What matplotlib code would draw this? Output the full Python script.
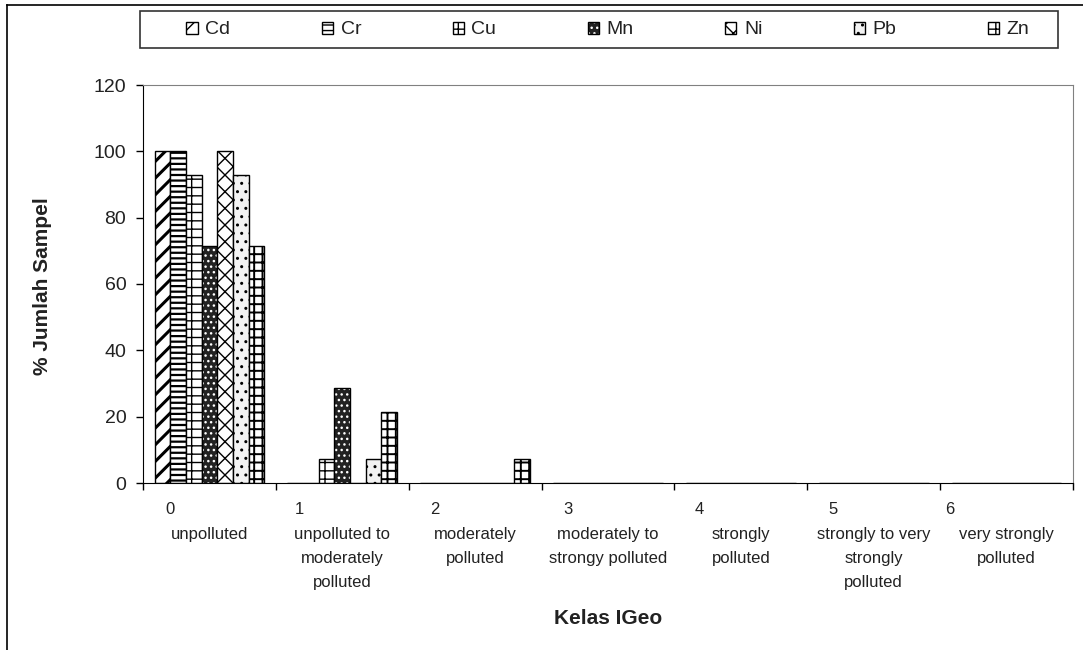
import matplotlib
matplotlib.use("Agg")
import matplotlib.pyplot as plt
from matplotlib.patches import Rectangle, Patch
from matplotlib.lines import Line2D
from matplotlib.legend_handler import HandlerTuple
import numpy as np

plt.rcParams['font.family'] = ['Liberation Sans', 'DejaVu Sans']

# data: % of samples per Igeo class
elements = ['Cd', 'Cr', 'Cu', 'Mn', 'Ni', 'Pb', 'Zn']
class_nums = ['0', '1', '2', '3', '4', '5', '6']
class_names = ['unpolluted', 'unpolluted to\nmoderately\npolluted', 'moderately\npolluted',
               'moderately to\nstrongy polluted', 'strongly\npolluted',
               'strongly to very\nstrongly\npolluted', 'very strongly\npolluted']
cd = [100, 0, 0, 0, 0, 0, 0]
cr = [100, 0, 0, 0, 0, 0, 0]
cu = [92.9, 7.1, 0, 0, 0, 0, 0]
mn = [71.4, 28.6, 0, 0, 0, 0, 0]
ni = [100, 0, 0, 0, 0, 0, 0]
pb = [92.9, 7.1, 0, 0, 0, 0, 0]
zn = [71.4, 21.4, 7.1, 0, 0, 0, 0]
series = [cd, cr, cu, mn, ni, pb, zn]

# fill styles for each element (face, hatch colour, hatch, hatch width)
styles = [
    ('white', 'black', '//', 2.2),
    ('white', 'black', '---', 1.6),
    ('white', 'black', '--|', 1.0),
    ('#222222', 'white', '...', 1.0),
    ('white', 'black', 'xx', 1.0),
    ('#f2f2f2', 'black', '..', 1.0),
    ('white', 'black', '++', 1.4),
]

W, H = 1083, 650
fig = plt.figure(figsize=(W / 100, H / 100), dpi=100)
ax = fig.add_axes([143 / W, 1 - 483 / H, 930 / W, 398 / H])

x = np.arange(len(class_nums)) + 0.5
bw = 0.118
handles = []
for j, (vals, st) in enumerate(zip(series, styles)):
    face, hcol, hatch, hlw = st
    pos = x + (j - 3) * bw
    with plt.rc_context({'hatch.linewidth': hlw}):
        ax.bar(pos, vals, bw, color=face, edgecolor=hcol, hatch=hatch, linewidth=0)
        h1 = Patch(facecolor=face, edgecolor=hcol, hatch=hatch, linewidth=0)
    ax.bar(pos, vals, bw, fill=False, edgecolor='black', linewidth=1.0)
    h2 = Patch(fill=False, edgecolor='black', linewidth=1.0)
    handles.append((h1, h2))

ax.set_xlim(0, 7)
ax.set_ylim(0, 120)
ax.set_yticks(range(0, 121, 20))
ax.tick_params(axis='y', labelsize=14, length=5, width=1, pad=7, labelcolor='#222222')
ax.set_xticks(range(8))
ax.set_xticklabels([])
ax.tick_params(axis='x', length=5, width=1)
for s in ['top', 'right']:
    ax.spines[s].set_color('#808080')

num_off = [0.2, 0.18, 0.2, 0.2, 0.19, 0.19, 0.07]
tr = ax.get_xaxis_transform()
for i in range(len(class_nums)):
    ax.text(i + num_off[i], (483 - 509) / 398, class_nums[i], transform=tr, ha='center',
            va='center', fontsize=12, color='#222222')
    for k, line in enumerate(class_names[i].split('\n')):
        ax.text(i + 0.5, (483 - 534 - 24 * k) / 398, line, transform=tr, ha='center',
                va='center', fontsize=12, color='#222222')

fig.text(608 / W, 1 - 618 / H, 'Kelas IGeo', ha='center', va='center',
         fontsize=15, fontweight='bold', color='#222222')
fig.text(43 / W, 1 - 286 / H, '% Jumlah Sampel', ha='center', va='center',
         rotation=90, fontsize=15, fontweight='bold', color='#222222')

# legend box on top
fig.patches.append(Rectangle((140 / W, 1 - 48 / H), 918 / W, 37 / H, transform=fig.transFigure,
                             fill=False, edgecolor='#333333', linewidth=1.2))
fig.legend(handles, elements, handler_map={tuple: HandlerTuple(ndivide=1, pad=0)},
           loc='center', bbox_to_anchor=(608 / W, 1 - 30 / H), ncol=7, frameon=False,
           fontsize=14, handlelength=0.57, handleheight=0.57, handletextpad=0.4,
           columnspacing=4.7, labelcolor='#222222')

# outer frame of the page
fig.add_artist(Line2D([7 / W, 7 / W], [0, 1 - 5 / H], transform=fig.transFigure,
                      color='black', linewidth=1.2))
fig.add_artist(Line2D([7 / W, 1], [1 - 5 / H, 1 - 5 / H], transform=fig.transFigure,
                      color='black', linewidth=1.2))

fig.savefig('out.png', dpi=100)
